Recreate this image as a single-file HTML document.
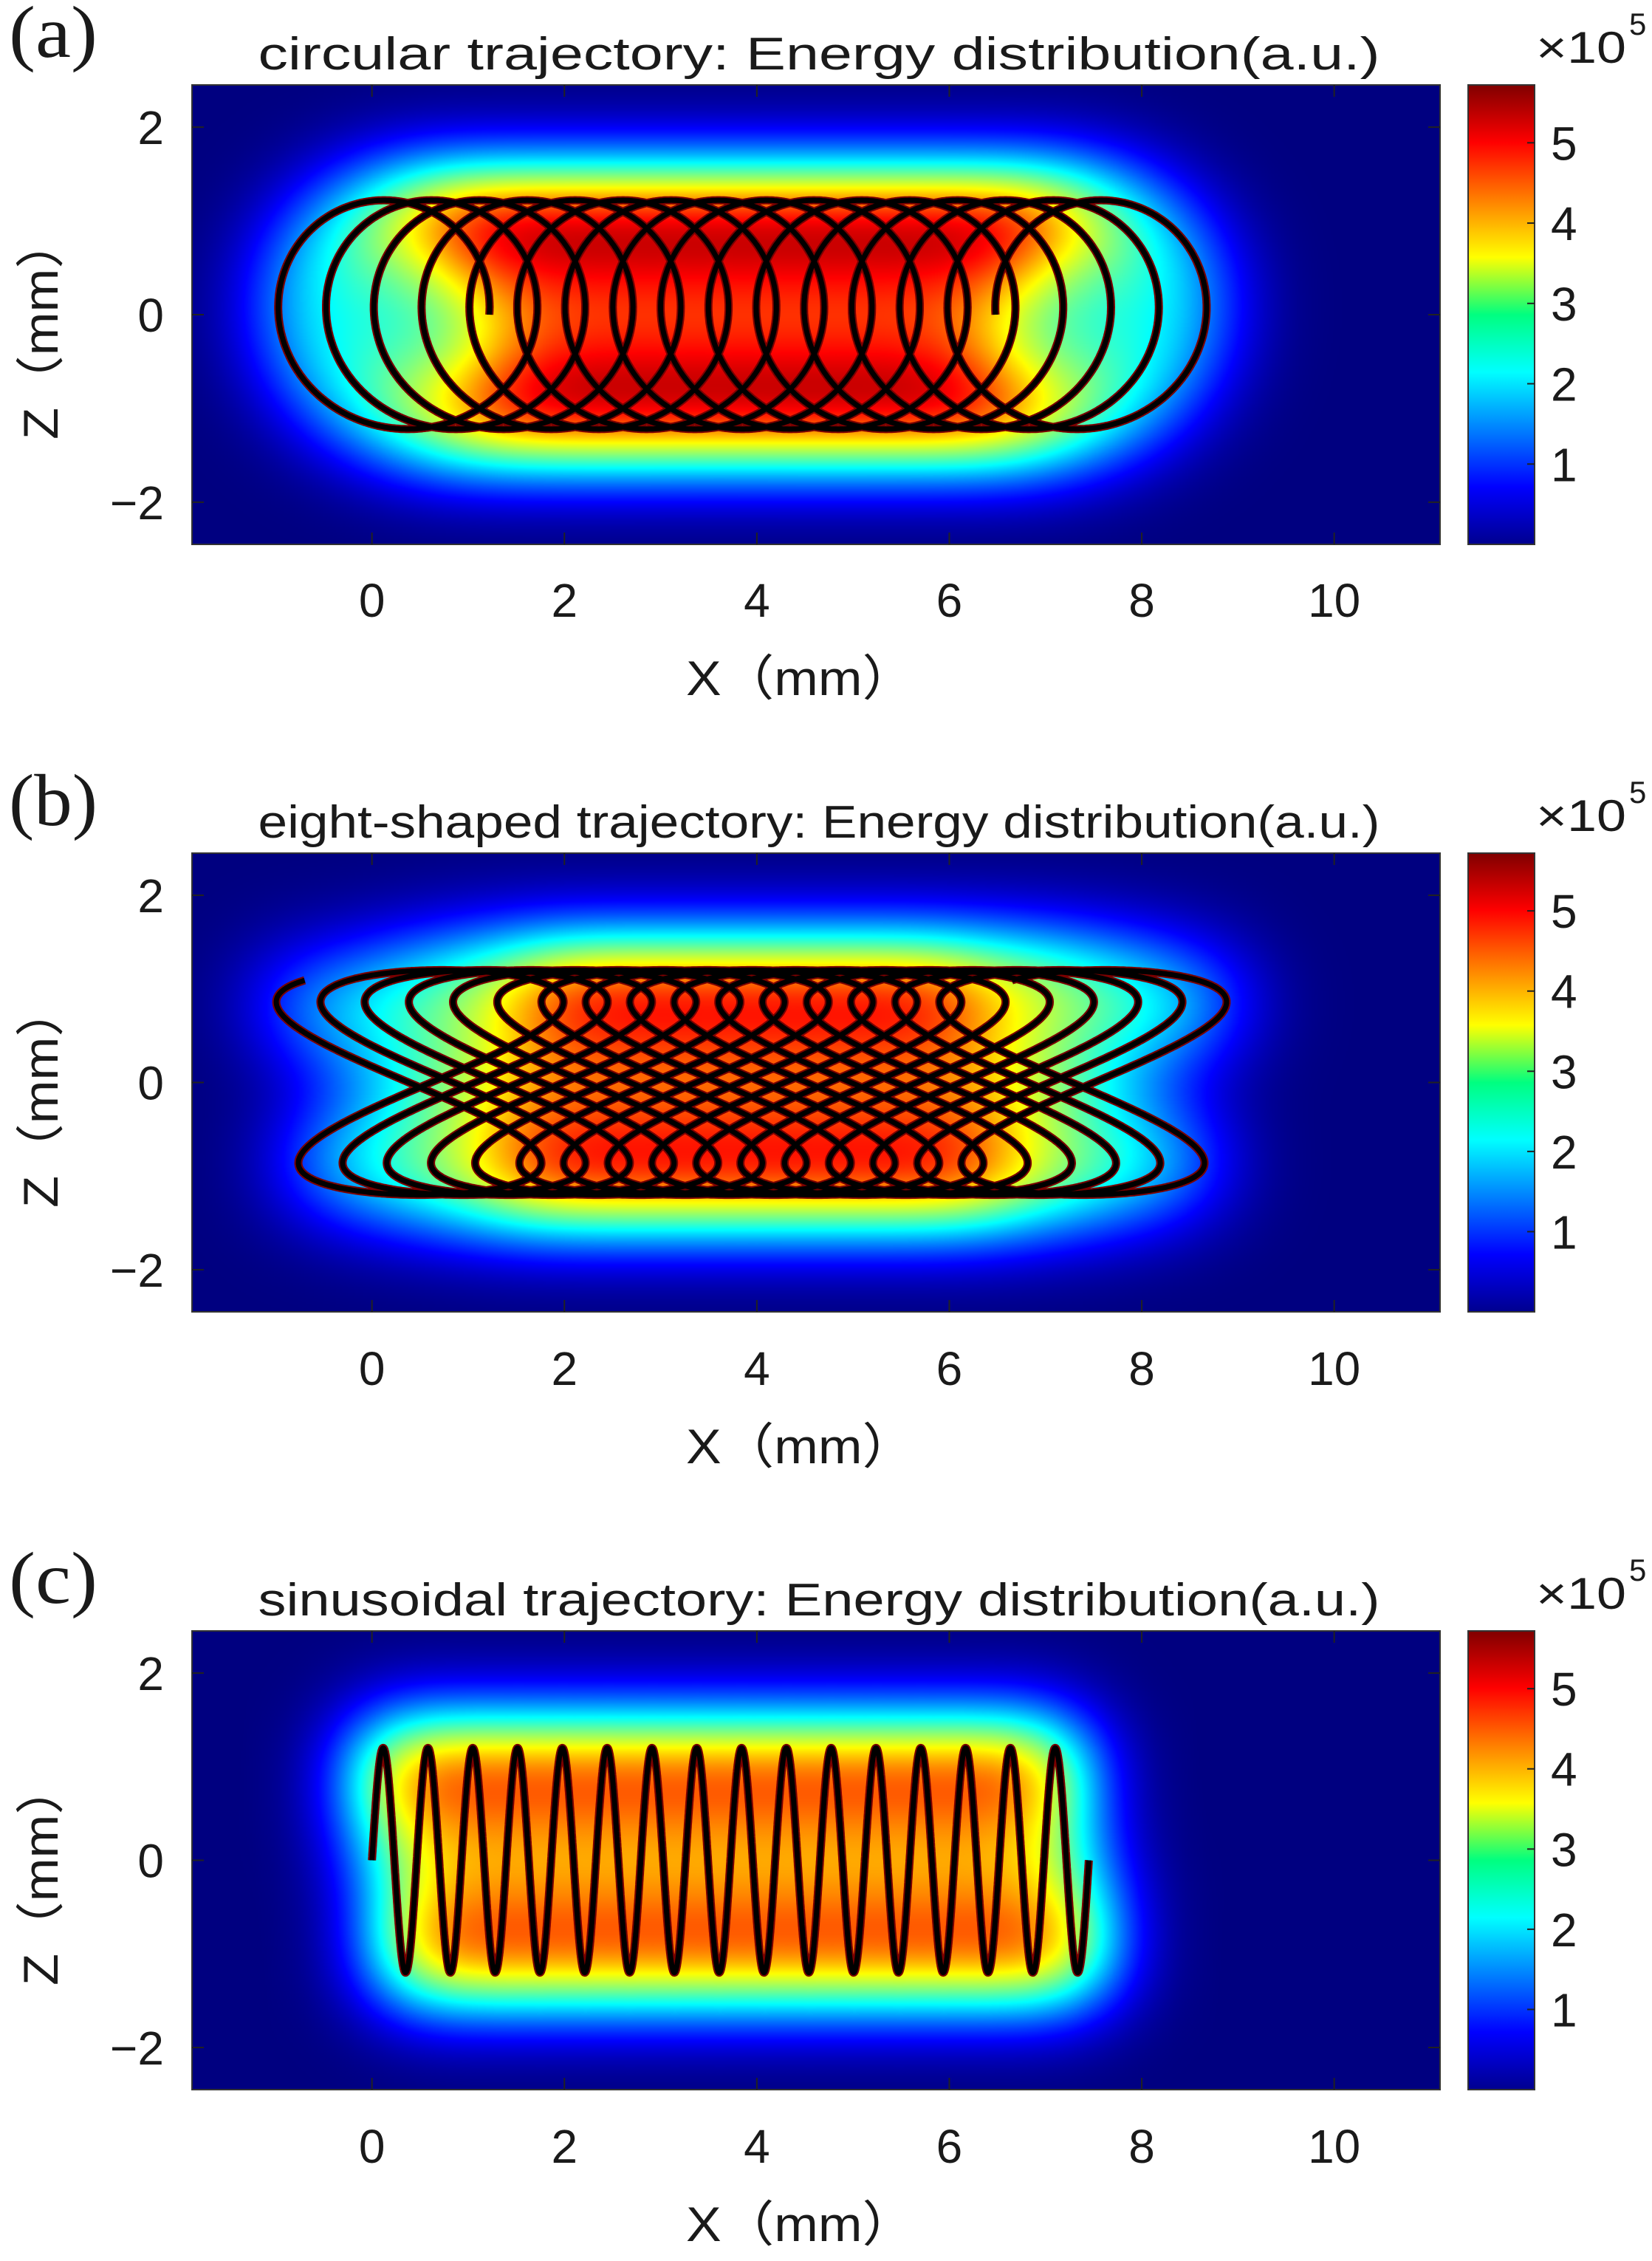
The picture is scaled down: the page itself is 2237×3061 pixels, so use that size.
<!DOCTYPE html>
<html>
<head>
<meta charset="utf-8">
<style>
html,body{margin:0;padding:0;background:#fff;}
#wrap{position:relative;width:2237px;height:3061px;overflow:hidden;background:#fff;}
canvas{position:absolute;}
svg{position:absolute;left:0;top:0;}
text{font-family:"Liberation Sans","Noto Sans CJK SC",sans-serif;fill:#1a1a1a;}
</style>
</head>
<body>
<div id="wrap">
<canvas id="hm0"></canvas>
<canvas id="hm1"></canvas>
<canvas id="hm2"></canvas>
<svg id="svg" width="2237" height="3061" xmlns="http://www.w3.org/2000/svg">
<defs>
<linearGradient id="jet" x1="0" y1="1" x2="0" y2="0">
<stop offset="0" stop-color="#00008f"/>
<stop offset="0.125" stop-color="#0000ff"/>
<stop offset="0.375" stop-color="#00ffff"/>
<stop offset="0.5" stop-color="#00ff80"/>
<stop offset="0.625" stop-color="#ffff00"/>
<stop offset="0.875" stop-color="#ff0000"/>
<stop offset="1" stop-color="#800000"/>
</linearGradient>
</defs>
</svg>
</div>
<script>
// ---- data ----
var xTicks = [0, 2, 4, 6, 8, 10];
var zTicks = [-2, 0, 2];
var cbTicks = [1, 2, 3, 4, 5];
var xRange = [-1.87, 11.1];
var zRange = [-2.45, 2.45];
var cbRange = [0, 5.72];
var panelTitles = ["circular trajectory: Energy distribution(a.u.)", "eight-shaped trajectory: Energy distribution(a.u.)", "sinusoidal trajectory: Energy distribution(a.u.)"];
var panelLetters = ["(a)", "(b)", "(c)"];
var panelPeak = [5.3, 4.9, 4.5];
// circular: center start/end x, radius, turns
var circCenter = [0.0, 7.7];
var circRadius = [1.22];
var circTurns = [15.5];
// eight-shaped: center start/end x, x amplitude, z amplitude, cycles, start phase
var eightCenter = [0.3, 7.65];
var eightAmp = [1.32, 1.2];
var eightCycles = [16];
var eightPhase = [2.0];
// sinusoidal: x start/end, amplitude, periods
var sinX = [0.0, 7.45];
var sinAmp = [1.2];
var sinPeriods = [16];

// ---- layout ----
var L = 260, R = 1950, W = R - L;
var tops = [115, 1155, 2208], bots = [737, 1776, 2829];
var CBL = 1988, CBR = 2078;
var svg = document.getElementById('svg');
var NS = "http://www.w3.org/2000/svg";
function mk(tag, attrs, parent) {
  var e = document.createElementNS(NS, tag);
  for (var k in attrs) e.setAttribute(k, attrs[k]);
  (parent || svg).appendChild(e);
  return e;
}
function sx(x) { return L + (x - xRange[0]) / (xRange[1] - xRange[0]) * W; }
function syf(p) { var T = tops[p], B = bots[p]; return function (z) { return B - (z - zRange[0]) / (zRange[1] - zRange[0]) * (B - T); }; }

function trajectory(p) {
  var pts = [];
  if (p === 0) {
    var n = 8000, th1 = 2 * Math.PI * circTurns[0];
    for (var i = 0; i <= n; i++) {
      var th = th1 * i / n;
      var xc = circCenter[0] + (circCenter[1] - circCenter[0]) * i / n;
      pts.push([xc + circRadius[0] * Math.cos(th), circRadius[0] * Math.sin(th)]);
    }
  } else if (p === 1) {
    var n = 9000, span = 2 * Math.PI * eightCycles[0];
    for (var i = 0; i <= n; i++) {
      var th = eightPhase[0] + span * i / n;
      var xc = eightCenter[0] + (eightCenter[1] - eightCenter[0]) * i / n;
      pts.push([xc + eightAmp[0] * Math.sin(2 * th), eightAmp[1] * Math.sin(th)]);
    }
  } else {
    var n = 6000;
    for (var i = 0; i <= n; i++) {
      var f = i / n;
      var x = sinX[0] + (sinX[1] - sinX[0]) * f;
      pts.push([x, sinAmp[0] * Math.sin(2 * Math.PI * sinPeriods[0] * f)]);
    }
  }
  return pts;
}

function jet(t) {
  t = Math.max(0, Math.min(1, t));
  function c(v) { return Math.max(0, Math.min(1, v)); }
  return [c(1.5 - Math.abs(4 * t - 3)) * 255, c(1.5 - Math.abs(4 * t - 2)) * 255, c(1.5 - Math.abs(4 * t - 1)) * 255];
}

function heatmap(p, pts) {
  var T = tops[p], B = bots[p], H = B - T;
  var cell = 2, gw = Math.round(W / cell), gh = Math.round(H / cell);
  var cv = document.getElementById('hm' + p);
  cv.width = gw; cv.height = gh;
  cv.style.left = L + 'px'; cv.style.top = T + 'px';
  cv.style.width = W + 'px'; cv.style.height = H + 'px';
  var g = new Float32Array(gw * gh);
  var sy = syf(p);
  for (var i = 0; i < pts.length; i++) {
    var gx = Math.round((sx(pts[i][0]) - L) / cell), gy = Math.round((sy(pts[i][1]) - T) / cell);
    if (gx >= 0 && gx < gw && gy >= 0 && gy < gh) g[gy * gw + gx] += 1;
  }
  var sigma = 0.48 * W / (xRange[1] - xRange[0]) / cell;
  var rad = Math.ceil(sigma * 3), k = [];
  for (var j = -rad; j <= rad; j++) k.push(Math.exp(-j * j / (2 * sigma * sigma)));
  var tmp = new Float32Array(gw * gh);
  for (var y = 0; y < gh; y++) for (var x = 0; x < gw; x++) {
    var s = 0;
    for (var j = -rad; j <= rad; j++) { var xx = x + j; if (xx >= 0 && xx < gw) s += g[y * gw + xx] * k[j + rad]; }
    tmp[y * gw + x] = s;
  }
  var out = new Float32Array(gw * gh), mx = 0;
  for (var y = 0; y < gh; y++) for (var x = 0; x < gw; x++) {
    var s = 0;
    for (var j = -rad; j <= rad; j++) { var yy = y + j; if (yy >= 0 && yy < gh) s += tmp[yy * gw + x] * k[j + rad]; }
    out[y * gw + x] = s; if (s > mx) mx = s;
  }
  var ctx = cv.getContext('2d');
  var img = ctx.createImageData(gw, gh);
  for (var i = 0; i < gw * gh; i++) {
    var v = out[i] / mx * panelPeak[p];
    var c = jet((v - cbRange[0]) / (cbRange[1] - cbRange[0]));
    img.data[i * 4] = c[0]; img.data[i * 4 + 1] = c[1]; img.data[i * 4 + 2] = c[2]; img.data[i * 4 + 3] = 255;
  }
  ctx.putImageData(img, 0, 0);
}

for (var p = 0; p < 3; p++) {
  var T = tops[p], B = bots[p], H = B - T, sy = syf(p);
  var pts = trajectory(p);
  heatmap(p, pts);
  var grp = mk('g', {});
  
  
  var clipId = 'clip' + p;
  var cp = mk('clipPath', { id: clipId }, grp);
  mk('rect', { x: L, y: T, width: W, height: H }, cp);
  var d = '';
  for (var i = 0; i < pts.length; i++) d += (i ? 'L' : 'M') + sx(pts[i][0]).toFixed(1) + ',' + sy(pts[i][1]).toFixed(1);
  var halo = mk('path', { d: d, fill: 'none', stroke: '#7a0000', 'stroke-width': 11, 'stroke-linejoin': 'round', 'clip-path': 'url(#' + clipId + ')' }, grp);
  
  
  var line = mk('path', { d: d, fill: 'none', stroke: '#000', 'stroke-width': 7, 'stroke-linejoin': 'round', 'clip-path': 'url(#' + clipId + ')' }, grp);
  
  
  var box = mk('rect', { x: L, y: T, width: W, height: H, fill: 'none', stroke: '#333', 'stroke-width': 2 }, grp);
  
  
  for (var i = 0; i < xTicks.length; i++) {
    var X = sx(xTicks[i]);
    mk('line', { x1: X, y1: B, x2: X, y2: B - 16, stroke: '#222', 'stroke-width': 2 }, grp);
    mk('line', { x1: X, y1: T, x2: X, y2: T + 16, stroke: '#222', 'stroke-width': 2 }, grp);
    var t = mk('text', { x: X, y: T + 720, 'text-anchor': 'middle', 'font-size': 64 }, grp);
    t.textContent = xTicks[i];
    
    
  }
  for (var i = 0; i < zTicks.length; i++) {
    var Y = sy(zTicks[i]);
    mk('line', { x1: L, y1: Y, x2: L + 16, y2: Y, stroke: '#222', 'stroke-width': 2 }, grp);
    mk('line', { x1: R, y1: Y, x2: R - 16, y2: Y, stroke: '#222', 'stroke-width': 2 }, grp);
    var t = mk('text', { x: 222, y: Y + 23, 'text-anchor': 'end', 'font-size': 64 }, grp);
    t.textContent = zTicks[i] < 0 ? '\u2212' + Math.abs(zTicks[i]) : zTicks[i];
    
    
  }
  var tt = mk('text', { x: 1109, y: T - 21, 'text-anchor': 'middle', 'font-size': 62, textLength: 1519, lengthAdjust: 'spacingAndGlyphs' }, grp);
  tt.textContent = panelTitles[p];
  
  
  var lt = mk('text', { x: 12, y: T - 38, 'font-size': 100, textLength: 120, lengthAdjust: 'spacingAndGlyphs', style: 'font-family:"Liberation Serif",serif' }, grp);
  lt.textContent = panelLetters[p];
  
  
  var xl = mk('text', { x: 1084, y: T + 826, 'text-anchor': 'middle', 'font-size': 66, textLength: 310, lengthAdjust: 'spacingAndGlyphs' }, grp);
  xl.textContent = 'X（mm）';
  
  
  var zy = T + 329;
  var zl = mk('text', { x: 0, y: 0, 'text-anchor': 'middle', 'font-size': 66, textLength: 302, lengthAdjust: 'spacingAndGlyphs', transform: 'translate(78,' + zy + ') rotate(-90)' }, grp);
  zl.textContent = 'Z（mm）';
  
  
  var cb = mk('rect', { x: CBL, y: T, width: CBR - CBL, height: H, fill: 'url(#jet)', stroke: '#333', 'stroke-width': 2 }, grp);
  
  
  for (var i = 0; i < cbTicks.length; i++) {
    var Y = B - (cbTicks[i] - cbRange[0]) / (cbRange[1] - cbRange[0]) * H;
    mk('line', { x1: CBR, y1: Y, x2: CBR - 10, y2: Y, stroke: '#222', 'stroke-width': 2 }, grp);
    var t = mk('text', { x: 2100, y: Y + 23, 'font-size': 64 }, grp);
    t.textContent = cbTicks[i];
    
    
  }
  var ex = mk('text', { x: 2080, y: T - 30, 'font-size': 60, textLength: 122, lengthAdjust: 'spacingAndGlyphs' }, grp);
  
  
  ex.textContent = '×10';
  var sup = mk('text', { x: 2206, y: T - 68, 'font-size': 42 }, grp);
  sup.textContent = '5';
  
  
}
</script>
</body>
</html>
